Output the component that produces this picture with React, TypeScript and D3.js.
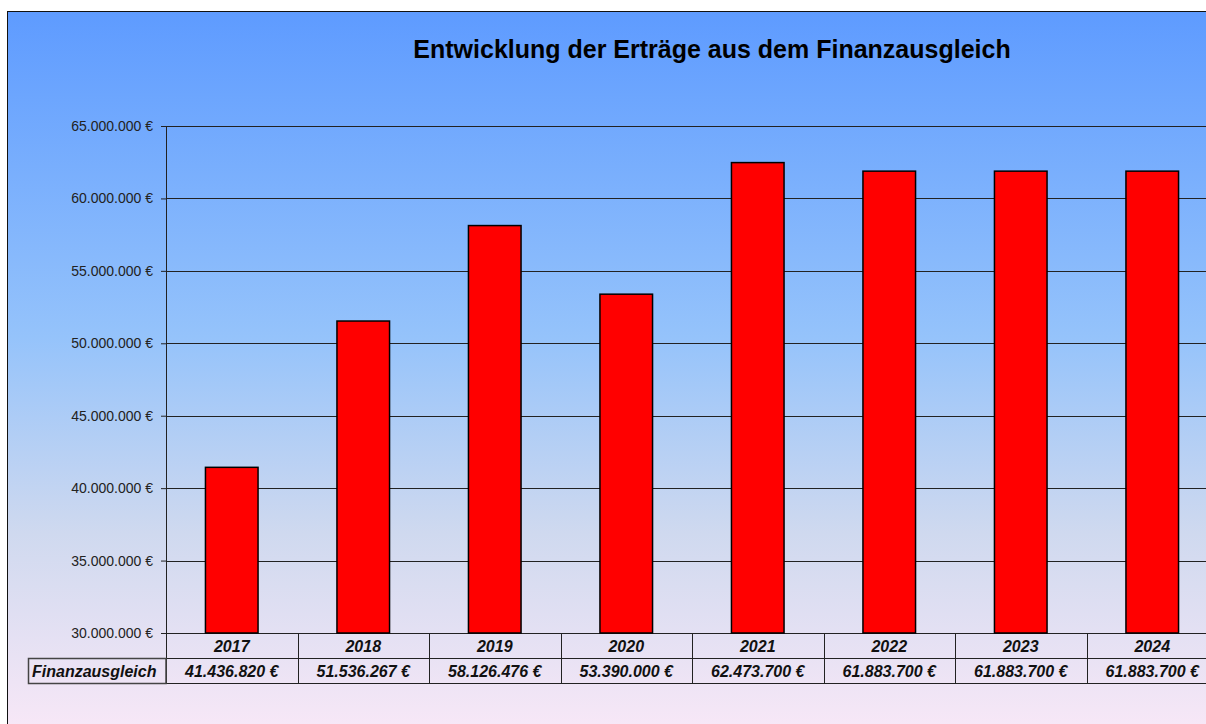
import React, { useEffect, useRef } from 'react';
import * as d3 from 'd3';

const years = ['2017', '2018', '2019', '2020', '2021', '2022', '2023', '2024'];
const finanzausgleich = [41436820, 51536267, 58126476, 53390000, 62473700, 61883700, 61883700, 61883700];
const yTicks = [30000000, 35000000, 40000000, 45000000, 50000000, 55000000, 60000000, 65000000];
const seriesName = 'Finanzausgleich';
const title = 'Entwicklung der Erträge aus dem Finanzausgleich';

const de = d3.formatLocale({ decimal: ',', thousands: '.', grouping: [3], currency: ['', ' €'] });
const fmt = de.format('$,.0f');

const App = () => {
  const ref = useRef<SVGSVGElement>(null);

  useEffect(() => {
    const svg = d3.select(ref.current);
    const width = 1206;
    const height = 724;
    const marginLeft = 166;
    const marginTop = 126;
    const plotBottom = 633;
    const rowH = 25;
    const band = 131.5;

    svg.selectAll('*').remove();

    const defs = svg.append('defs');
    const grad = defs.append('linearGradient')
      .attr('id', 'bg')
      .attr('x1', 0).attr('y1', 0).attr('x2', 0).attr('y2', 1);
    grad.append('stop').attr('offset', '0%').attr('stop-color', '#5e9bff');
    grad.append('stop').attr('offset', '45%').attr('stop-color', '#95c3fb');
    grad.append('stop').attr('offset', '72%').attr('stop-color', '#cfd9ef');
    grad.append('stop').attr('offset', '100%').attr('stop-color', '#f9e8f7');

    svg.append('rect')
      .attr('x', 7.5).attr('y', 11.5)
      .attr('width', width).attr('height', height)
      .attr('fill', 'url(#bg)')
      .attr('stroke', '#111')
      .attr('stroke-width', 1);

    svg.append('text')
      .attr('x', 712).attr('y', 58)
      .attr('text-anchor', 'middle')
      .attr('font-family', 'Liberation Sans, Arial, sans-serif')
      .attr('font-weight', 'bold')
      .attr('font-size', 25)
      .attr('fill', '#000')
      .text(title);

    const x = d3.scaleBand()
      .domain(years)
      .range([marginLeft, marginLeft + band * years.length])
      .padding(0);

    const y = d3.scaleLinear()
      .domain([30000000, 65000000])
      .range([plotBottom, marginTop]);

    // gridlines + ticks
    const yAxis = svg.append('g')
      .attr('transform', `translate(${marginLeft},0)`)
      .call(d3.axisLeft(y).tickValues(yTicks).tickFormat(d => fmt(d as number)).tickSize(5).tickPadding(8))
      .call(g => g.select('.domain').remove());
    yAxis.selectAll('line').attr('stroke', '#222');
    yAxis.selectAll('text')
      .attr('font-family', 'Liberation Sans, Arial, sans-serif')
      .attr('font-size', 14)
      .attr('fill', '#222');

    svg.append('g')
      .selectAll('line')
      .data(yTicks)
      .join('line')
        .attr('x1', marginLeft).attr('x2', width + 20)
        .attr('y1', d => Math.round(y(d)) + 0.5).attr('y2', d => Math.round(y(d)) + 0.5)
        .attr('stroke', '#222');

    const bw = x.bandwidth() * 0.4;
    svg.append('g')
      .selectAll('rect')
      .data(finanzausgleich)
      .join('rect')
        .attr('x', (d, i) => x(years[i])! + (x.bandwidth() - bw) / 2)
        .attr('y', d => y(d))
        .attr('width', bw)
        .attr('height', d => y(30000000) - y(d))
        .attr('fill', '#ff0000')
        .attr('stroke', '#000')
        .attr('stroke-width', 1.5);

    // y axis line through table
    svg.append('line')
      .attr('x1', marginLeft + 0.5).attr('x2', marginLeft + 0.5)
      .attr('y1', marginTop).attr('y2', plotBottom + rowH * 2)
      .attr('stroke', '#222');

    // data table
    const table = svg.append('g');
    table.append('line')
      .attr('x1', marginLeft).attr('x2', width + 20)
      .attr('y1', plotBottom + rowH + 0.5).attr('y2', plotBottom + rowH + 0.5)
      .attr('stroke', '#222');
    table.append('line')
      .attr('x1', 28).attr('x2', width + 20)
      .attr('y1', plotBottom + rowH * 2 + 0.5).attr('y2', plotBottom + rowH * 2 + 0.5)
      .attr('stroke', '#222');
    table.selectAll('line.sep')
      .data(years.slice(1))
      .join('line')
        .attr('class', 'sep')
        .attr('x1', d => Math.round(x(d)!) + 0.5).attr('x2', d => Math.round(x(d)!) + 0.5)
        .attr('y1', plotBottom).attr('y2', plotBottom + rowH * 2)
        .attr('stroke', '#222');
    table.append('rect')
      .attr('x', 28.5).attr('y', plotBottom + rowH + 0.5)
      .attr('width', marginLeft - 28.5).attr('height', rowH)
      .attr('fill', 'none')
      .attr('stroke', '#444')
      .attr('stroke-width', 1.5);

    const textStyle = (s: any) => s
      .attr('font-family', 'Liberation Sans, Arial, sans-serif')
      .attr('font-size', 16)
      .attr('font-weight', 'bold')
      .attr('font-style', 'italic')
      .attr('fill', '#111');

    table.selectAll('text.year')
      .data(years)
      .join('text')
        .attr('class', 'year')
        .attr('x', d => x(d)! + x.bandwidth() / 2)
        .attr('y', plotBottom + 19)
        .attr('text-anchor', 'middle')
        .text(d => d)
        .call(textStyle);

    table.selectAll('text.val')
      .data(finanzausgleich)
      .join('text')
        .attr('class', 'val')
        .attr('x', (d, i) => x(years[i])! + x.bandwidth() / 2)
        .attr('y', plotBottom + rowH + 19)
        .attr('text-anchor', 'middle')
        .text(d => fmt(d))
        .call(textStyle);

    table.append('text')
      .attr('x', 32)
      .attr('y', plotBottom + rowH + 19)
      .text(seriesName)
      .call(textStyle);
  }, []);

  return (
    <div style={{ position: 'fixed', left: 0, top: 0, width: 1206, height: 724, overflow: 'hidden', background: '#fff' }}>
      <svg ref={ref} width={1206} height={724} style={{ display: 'block' }}></svg>
    </div>
  );
};

export default App;
